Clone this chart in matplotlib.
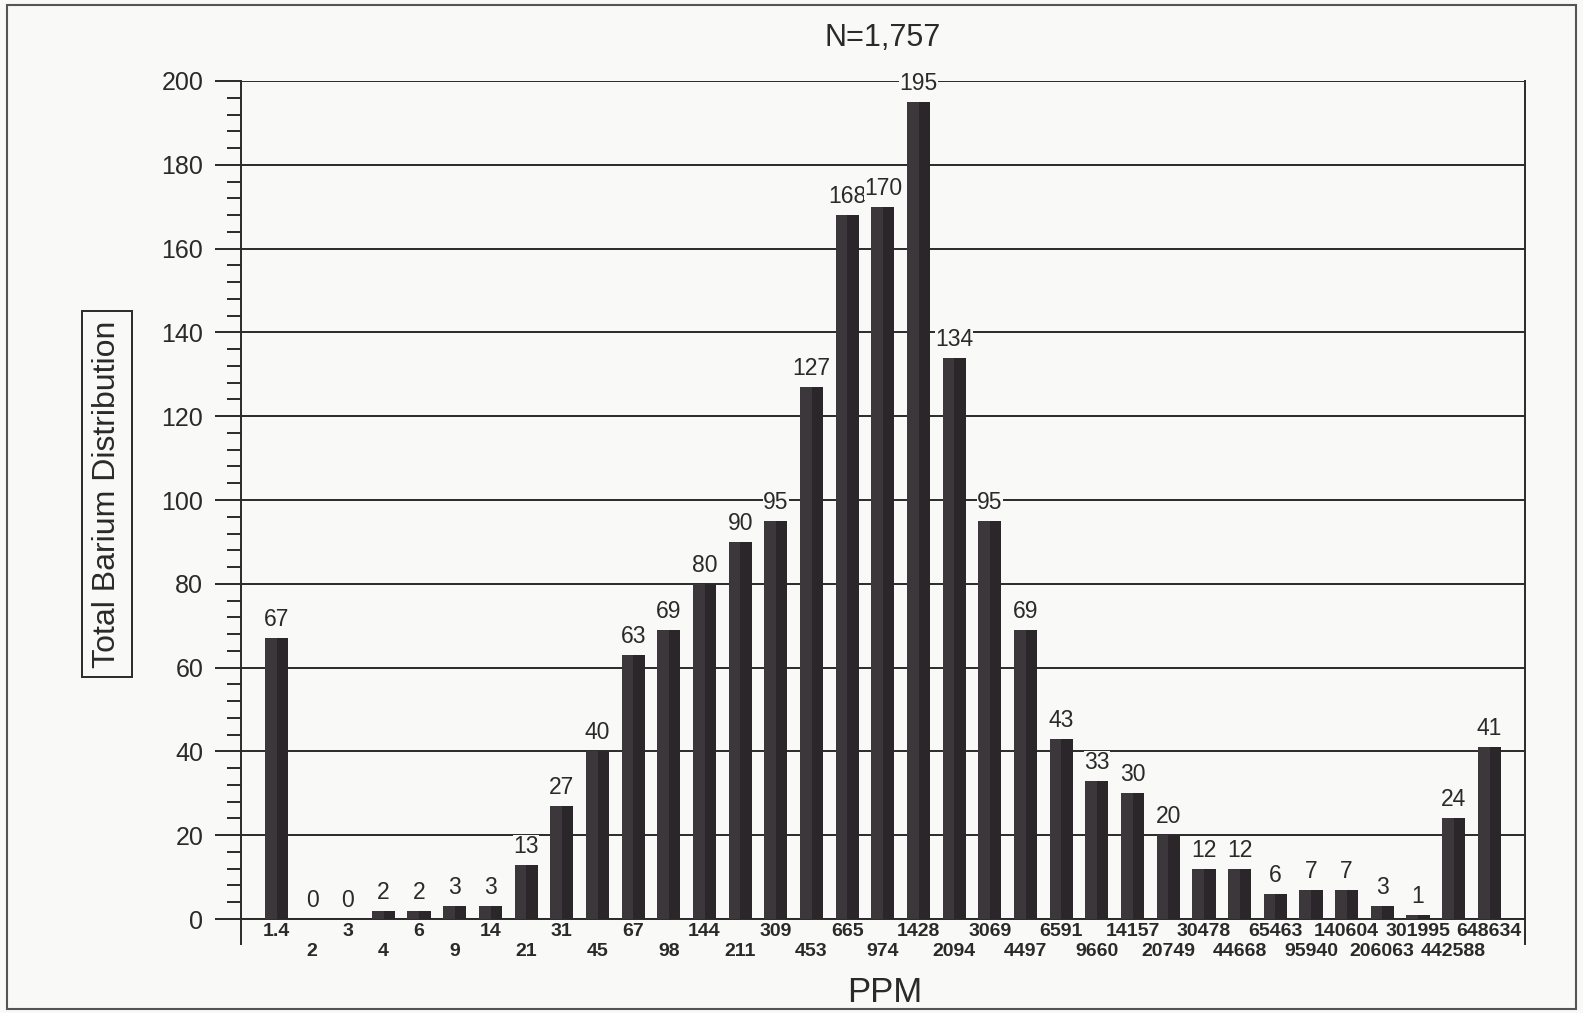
import numpy as np
import matplotlib
matplotlib.use('Agg')
import matplotlib.pyplot as plt
from matplotlib.ticker import MultipleLocator
from matplotlib.patches import Rectangle

plt.rcParams['font.family'] = ['Liberation Sans', 'DejaVu Sans']

# PPM bins (upper bound of each class) and counts
ppm = ['1.4', '2', '3', '4', '6', '9', '14', '21', '31', '45', '67', '98',
       '144', '211', '309', '453', '665', '974', '1428', '2094', '3069',
       '4497', '6591', '9660', '14157', '20749', '30478', '44668', '65463',
       '95940', '140604', '206063', '301995', '442588', '648634']
counts = [67, 0, 0, 2, 2, 3, 3, 13, 27, 40, 63, 69, 80, 90, 95, 127, 168,
          170, 195, 134, 95, 69, 43, 33, 30, 20, 12, 12, 6, 7, 7, 3, 1, 24, 41]
title = 'N=1,757'

bg = '#f9f9f7'
barc = '#2b2629'
ink = '#2a2a2a'

fig = plt.figure(figsize=(15.83, 10.13), dpi=100, facecolor=bg)
ax = fig.add_axes([240.7/1583, 1-919/1013, (1525-240.7)/1583, (919-81)/1013])
ax.set_facecolor(bg)

x = np.arange(len(ppm))
ax.bar(x, counts, width=0.65, color=barc, zorder=3)
# lighter left strip, like the shaded bars in the print
ax.bar(x - 0.16, counts, width=0.33, color='#3b373a', zorder=3)

for xi, c in zip(x, counts):
    ax.annotate(str(c), (xi, c), xytext=(0, 5), textcoords='offset points',
                ha='center', va='bottom', fontsize=16.5, color=ink, zorder=5,
                bbox=dict(boxstyle='square,pad=0.0', fc=bg, ec='none'))

ax.set_xlim(-1, 35)
ax.set_ylim(0, 200)
ax.yaxis.set_major_locator(MultipleLocator(20))
ax.yaxis.set_minor_locator(MultipleLocator(4))
ax.grid(axis='y', color=ink, lw=1.4, zorder=1)
ax.tick_params(axis='y', which='major', direction='out', length=19, width=1.4,
               pad=8, labelsize=18, colors=ink)
ax.tick_params(axis='y', which='minor', direction='out', length=10, width=1.4,
               colors=ink)

# alternating x labels: even index high, odd index low
ax.set_xticks(x[::2], ppm[::2])
ax.set_xticks(x[1::2], ppm[1::2], minor=True)
ax.tick_params(axis='x', which='both', length=0, labelsize=14, colors=ink)
ax.tick_params(axis='x', which='major', pad=3)
ax.tick_params(axis='x', which='minor', pad=17)
for lab in ax.get_xticklabels(which='both'):
    lab.set_fontweight('bold')

for s in ax.spines.values():
    s.set_color(ink)
    s.set_linewidth(1.4)
ax.spines['top'].set_visible(False)
# spines run a little below the baseline
for xx in (0, 1):
    ax.plot([xx, xx], [0, -0.03], transform=ax.transAxes, color=ink,
            lw=1.4, clip_on=False)

fig.text(883/1583, 1-38/1013, title, ha='center', va='center',
         fontsize=22, color=ink)
fig.text(885/1583, 1-992/1013, 'PPM', ha='center', va='center',
         fontsize=25, color=ink)
fig.text(107/1583, 1-494/1013, 'Total Barium Distribution', ha='center',
         va='center', rotation=90, fontsize=23, color=ink,
         bbox=dict(boxstyle='square,pad=0.3', fc=bg, ec=ink, lw=1.4))

fig.patches.append(Rectangle((7/1583, 1-1009/1013), (1576-7)/1583, (1009-5)/1013,
                             transform=fig.transFigure, fill=False,
                             ec='#555555', lw=1.5))

fig.savefig('out.png', dpi=100, facecolor=bg)
